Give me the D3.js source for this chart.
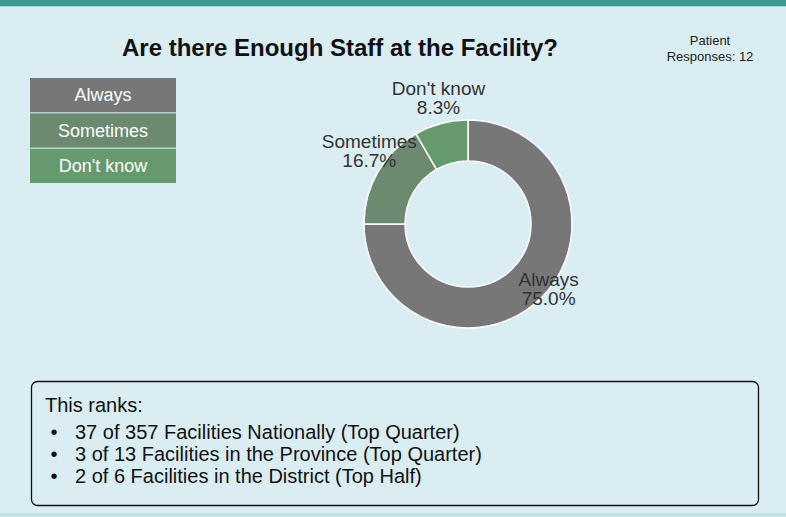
<!DOCTYPE html>
<html>
<head>
<meta charset="utf-8">
<script src="https://cdn.jsdelivr.net/npm/d3@7"></script>
<style>
  body { margin: 0; background: #daedf3; }
  svg { display: block; font-family: "Liberation Sans", Arial, sans-serif; }
</style>
</head>
<body>
<script>
// chart data
let categories = ['Always', 'Sometimes', "Don't know"];
let values = [9, 2, 1];
let colors = ['#777777', '#6b8a6f', '#65996e'];
let title = 'Are there Enough Staff at the Facility?';
let responses = 12;
let rankLines = [
  '37 of 357 Facilities Nationally (Top Quarter)',
  '3 of 13 Facilities in the Province (Top Quarter)',
  '2 of 6 Facilities in the District (Top Half)'
];

let W = 786, H = 517;
let svg = d3.select('body').append('svg')
  .attr('width', W)
  .attr('height', H);

// page frame
svg.append('rect').attr('width', W).attr('height', H).attr('fill', '#daedf3');
svg.append('rect').attr('width', W).attr('height', 6).attr('fill', '#3d9a8f');
svg.append('rect').attr('y', 6).attr('width', W).attr('height', 1).attr('fill', '#a9d7d5');
svg.append('rect').attr('y', 513).attr('width', W).attr('height', 4).attr('fill', '#c4e2e4');

// title
svg.append('text')
  .attr('x', 340).attr('y', 56)
  .attr('text-anchor', 'middle')
  .attr('font-size', '24px').attr('font-weight', 'bold')
  .attr('fill', '#111')
  .text(title);

let resp = svg.append('text')
  .attr('text-anchor', 'middle')
  .attr('font-size', '13px')
  .attr('fill', '#222');
resp.append('tspan').attr('x', 710).attr('y', 45).text('Patient');
resp.append('tspan').attr('x', 710).attr('y', 61).text('Responses: ' + responses);

// legend
let color = d3.scaleOrdinal().domain(categories).range(colors);
let legY = d3.scaleBand().domain(categories).range([78, 183]).paddingInner(0.03);
let leg = svg.append('g').selectAll('g')
  .data(categories)
  .enter().append('g');
leg.append('rect')
  .attr('x', 30).attr('y', d => legY(d))
  .attr('width', 146).attr('height', legY.bandwidth())
  .attr('fill', d => color(d));
leg.append('text')
  .attr('x', 103).attr('y', d => legY(d) + legY.bandwidth() / 2)
  .attr('dy', '0.35em')
  .attr('text-anchor', 'middle')
  .attr('font-size', '18px')
  .attr('fill', '#fff')
  .text(d => d);

// donut
let cx = 468, cy = 224, outerR = 104, innerR = 63;
let total = d3.sum(values);
let pie = d3.pie().sort(null).value(d => d.v);
let arcs = pie(categories.map((c, i) => ({ c: c, v: values[i] })));
let arc = d3.arc().innerRadius(innerR).outerRadius(outerR);
let labelArc = d3.arc().innerRadius(114).outerRadius(114);

let g = svg.append('g').attr('transform', `translate(${cx},${cy})`);
g.selectAll('path')
  .data(arcs)
  .enter().append('path')
  .attr('d', arc)
  .attr('fill', d => color(d.data.c))
  .attr('stroke', '#fff')
  .attr('stroke-width', 1.5);

let fmt = d3.format('.1%');
let lbl = g.selectAll('text.lbl')
  .data(arcs)
  .enter().append('text')
  .attr('class', 'lbl')
  .attr('text-anchor', 'middle')
  .attr('font-size', '19px')
  .attr('fill', '#333');
lbl.append('tspan')
  .attr('x', d => labelArc.centroid(d)[0])
  .attr('y', d => labelArc.centroid(d)[1] - 19)
  .text(d => d.data.c);
lbl.append('tspan')
  .attr('x', d => labelArc.centroid(d)[0])
  .attr('y', d => labelArc.centroid(d)[1])
  .text(d => fmt(d.data.v / total));

// ranks box
svg.append('rect')
  .attr('x', 31.5).attr('y', 381.5)
  .attr('width', 727).attr('height', 124)
  .attr('rx', 6)
  .attr('fill', 'none')
  .attr('stroke', '#111')
  .attr('stroke-width', 1.3);
svg.append('text')
  .attr('x', 45).attr('y', 412)
  .attr('font-size', '20px')
  .attr('fill', '#111')
  .text('This ranks:');
let li = svg.append('g').selectAll('g')
  .data(rankLines)
  .enter().append('g')
  .attr('transform', (d, i) => `translate(0,${439 + i * 22})`);
li.append('text')
  .attr('x', 54).attr('y', 0)
  .attr('text-anchor', 'middle')
  .attr('font-size', '20px')
  .attr('fill', '#111')
  .text('\u2022');
li.append('text')
  .attr('x', 75).attr('y', 0)
  .attr('font-size', '20px')
  .attr('fill', '#111')
  .text(d => d);
</script>
</body>
</html>
